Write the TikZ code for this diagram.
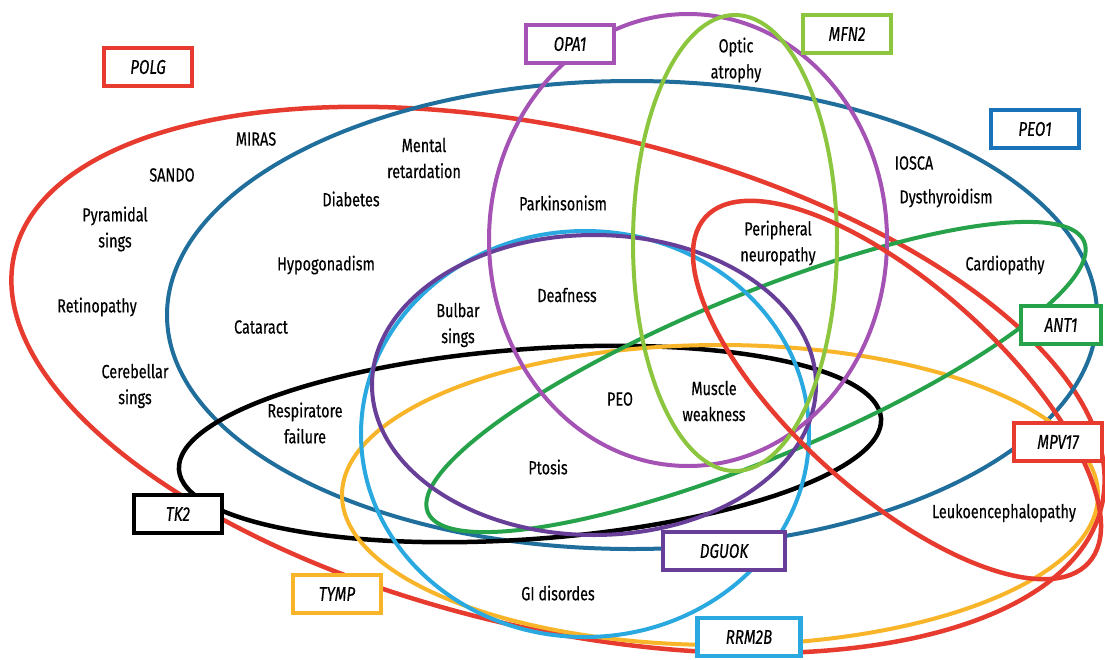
\documentclass[tikz,border=0pt]{standalone}
\usepackage{fontspec}
\setmainfont{Fira Sans}[FakeStretch=0.76, FakeBold=0.35]
\definecolor{cred}{HTML}{E63B2E}
\definecolor{cdblue}{HTML}{1F6E9C}
\definecolor{cbbox}{HTML}{1A72B8}
\definecolor{cyell}{HTML}{F9B52A}
\definecolor{ccyan}{HTML}{2AA9E0}
\definecolor{cpurp}{HTML}{673F98}
\definecolor{cmag}{HTML}{A552B5}
\definecolor{clgreen}{HTML}{8CC63F}
\definecolor{cdgreen}{HTML}{25A24A}
\begin{document}
\begin{tikzpicture}[x=1pt,y=-1pt,
  ell/.style={line width=4pt},
  lab/.style={font=\fontsize{19}{26}\selectfont, align=center, inner sep=0pt, text=black},
  gene/.style={draw, line width=4.5pt, fill=white, minimum width=88pt, minimum height=38pt,
    inner sep=0pt, font=\fontsize{20}{22}\selectfont\itshape}]
\useasboundingbox (0,0) rectangle (1105,659);
\fill[white] (0,0) rectangle (1105,659);

% ellipses
\draw[ell, cred, line width=4.5pt, rotate around={-13:(558,380)}] (558,380) ellipse [x radius=558pt, y radius=249pt];
\draw[ell, cdblue] (632,315) ellipse [x radius=465pt, y radius=234pt];
\draw[ell, black, line width=4.5pt, rotate around={4.2:(530,444)}] (530,444) ellipse [x radius=352pt, y radius=95pt];
\draw[ell, cyell] (720,495) ellipse [x radius=378pt, y radius=150pt];
\draw[ell, cdgreen, rotate around={22.4:(756,377)}] (756,377) ellipse [x radius=355pt, y radius=82pt];
\draw[ell, ccyan] (585,434) ellipse [x radius=224pt, y radius=203pt];
\draw[ell, cpurp] (594,385) ellipse [x radius=222pt, y radius=150pt];
\draw[ell, cmag] (688,240) ellipse [x radius=199pt, y radius=226pt];
\draw[ell, clgreen] (735,243) ellipse [x radius=102pt, y radius=228pt];
\draw[ell, cred, line width=4.5pt, rotate around={-42:(897,390)}] (897,390) ellipse [x radius=258pt, y radius=104pt];

% labels
\node[lab] (miras) at (256,139) {MIRAS};
\node[lab] (sando) at (172,175) {SANDO};
\node[lab] (pyr) at (115,229) {Pyramidal\\sings};
\node[lab] (retino) at (97,307) {Retinopathy};
\node[lab] (cereb) at (135,386) {Cerebellar\\sings};
\node[lab] (mental) at (424,158) {Mental\\retardation};
\node[lab] (diab) at (351,199) {Diabetes};
\node[lab] (hypo) at (326,265) {Hypogonadism};
\node[lab] (catar) at (261,327) {Cataract};
\node[lab] (bulbar) at (458,325) {Bulbar\\sings};
\node[lab] (deaf) at (567,295) {Deafness};
\node[lab] (parkin) at (563,203) {Parkinsonism};
\node[lab] (optic) at (736,60) {Optic\\atrophy};
\node[lab] (iosca) at (914,163) {IOSCA};
\node[lab] (dysth) at (946,198) {Dysthyroidism};
\node[lab] (periph) at (778,243) {Peripheral\\neuropathy};
\node[lab] (cardio) at (1005,265) {Cardiopathy};
\node[lab] (peo) at (620,399) {PEO};
\node[lab] (muscle) at (714,401) {Muscle\\weakness};
\node[lab] (resp) at (305,423) {Respiratore\\failure};
\node[lab] (ptosis) at (548,467) {Ptosis};
\node[lab] (gi) at (558,593) {GI disordes};
\node[lab] (leuko) at (1004,513) {Leukoencephalopathy};

% gene boxes
\node[gene, draw=cred] (polg) at (148,67) {POLG};
\node[gene, draw=cmag] (opa1) at (570,44) {OPA1};
\node[gene, draw=clgreen] (mfn2) at (847,34) {MFN2};
\node[gene, draw=cbbox] (peo1) at (1035,129) {PEO1};
\node[gene, draw=cdgreen, minimum width=80pt] (ant1) at (1061,325) {ANT1};
\node[gene, draw=cred] (mpv17) at (1058,442) {MPV17};
\node[gene, draw=black] (tk2) at (178,514) {TK2};
\node[gene, draw=cyell] (tymp) at (337,594) {TYMP};
\node[gene, draw=cpurp, minimum width=122pt] (dguok) at (724,551) {DGUOK};
\node[gene, draw=ccyan, minimum width=103pt] (rrm2b) at (749,637) {RRM2B};
\end{tikzpicture}
\end{document}
